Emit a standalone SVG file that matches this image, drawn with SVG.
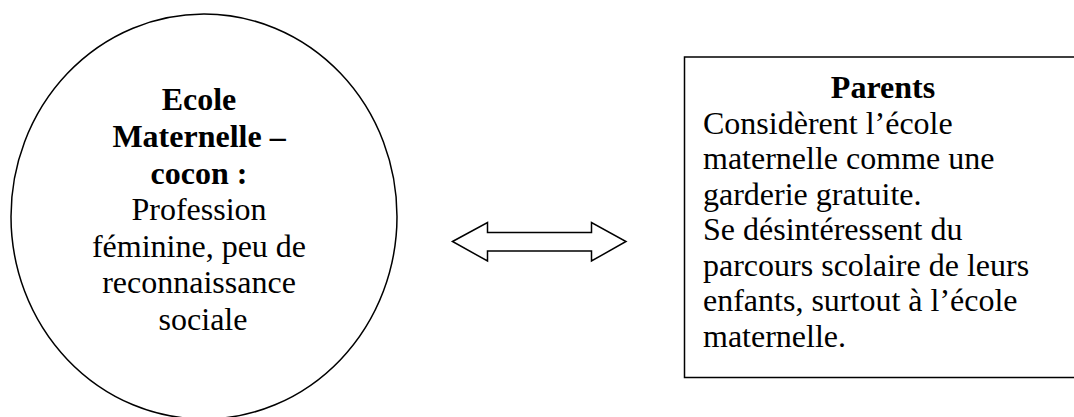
<svg xmlns="http://www.w3.org/2000/svg" width="1074" height="417" viewBox="0 0 1074 417">
<style>
.t{font-family:"Liberation Serif","Times New Roman",serif;font-size:32px;fill:#000}
.b{font-weight:bold}
.s{fill:#fff;stroke:#000;stroke-width:1.5}
</style>
<rect width="1074" height="417" fill="#fff"/>
<g id="ecole">
<ellipse class="s" cx="204" cy="216.5" rx="193" ry="202.5"/>
<text class="t" text-anchor="middle" x="203">
<tspan class="b" x="203" y="110">Ecole</tspan>
<tspan class="b" x="203" y="147">Maternelle –</tspan>
<tspan class="b" x="203" y="184">cocon :</tspan>
<tspan x="203" y="220">Profession</tspan>
<tspan x="203" y="257">féminine, peu de</tspan>
<tspan x="203" y="293">reconnaissance</tspan>
<tspan x="203" y="330">sociale</tspan>
</text>
</g>
<g id="parents">
<rect class="s" x="684.5" y="57" width="400" height="320.5"/>
<text class="t">
<tspan class="b" x="887" y="98" text-anchor="middle">Parents</tspan>
<tspan x="703" y="134">Considèrent l’école</tspan>
<tspan x="703" y="169">maternelle comme une</tspan>
<tspan x="703" y="205">garderie gratuite.</tspan>
<tspan x="703" y="240">Se désintéressent du</tspan>
<tspan x="703" y="276">parcours scolaire de leurs</tspan>
<tspan x="703" y="311">enfants, surtout à l’école</tspan>
<tspan x="703" y="347">maternelle.</tspan>
</text>
</g>
<g id="connectors">
<path class="s" d="M452.5,241.5 L487.5,222.5 L487.5,232.5 L591.5,232.5 L591.5,222.5 L626,241.5 L591.5,261 L591.5,251 L487.5,251 L487.5,261 Z"/>
</g>
</svg>
